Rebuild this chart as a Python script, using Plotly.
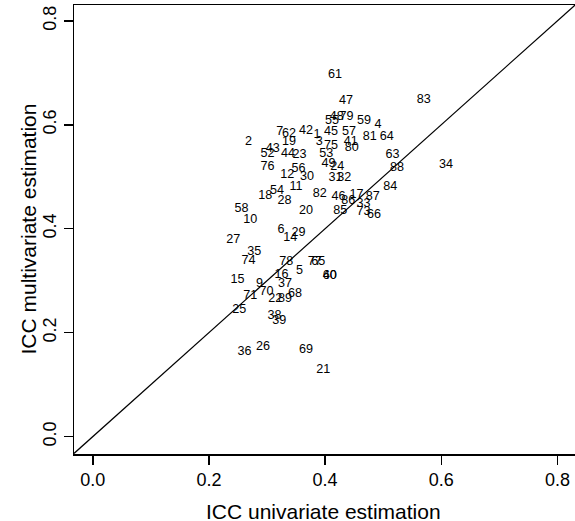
import plotly.graph_objects as go

labels = ["61","47","83","55","48","79","59","4","7","62","42","1","45","57","81","64",
          "2","19","3","75","41","80","43","52","44","23","53","63","88","34","76","49",
          "24","12","56","30","32","11","82","46","17","87","84","85","86","33","73","66",
          "54","18","28","20","58","10","27","6","29","14","35","74","78","5","40","60",
          "16","15","9","37","70","68","71","22","89","25","38","39","36","26","69","21",
          "65","77","31"]
x_uni = [0.417,0.436,0.570,0.412,0.420,0.437,0.467,0.491,0.322,0.338,0.367,0.386,0.410,0.441,0.477,0.506,
         0.268,0.338,0.390,0.410,0.444,0.446,0.310,0.301,0.336,0.356,0.402,0.516,0.524,0.608,0.301,0.406,
         0.421,0.335,0.354,0.369,0.433,0.350,0.391,0.423,0.454,0.482,0.512,0.426,0.440,0.466,0.466,0.484,
         0.317,0.297,0.330,0.367,0.256,0.271,0.242,0.324,0.354,0.340,0.278,0.268,0.333,0.356,0.408,0.408,
         0.325,0.249,0.287,0.331,0.299,0.348,0.271,0.314,0.331,0.252,0.313,0.321,0.261,0.293,0.367,0.397,
         0.388,0.382,0.418]
y_multi = [0.697,0.647,0.648,0.608,0.616,0.615,0.608,0.600,0.587,0.582,0.589,0.580,0.586,0.586,0.577,0.577,
           0.567,0.567,0.567,0.560,0.567,0.555,0.554,0.544,0.544,0.543,0.544,0.542,0.517,0.523,0.519,0.524,
           0.520,0.503,0.516,0.499,0.498,0.481,0.467,0.461,0.466,0.461,0.481,0.435,0.454,0.448,0.432,0.427,
           0.472,0.464,0.453,0.435,0.438,0.417,0.379,0.397,0.393,0.382,0.355,0.339,0.336,0.318,0.310,0.310,
           0.312,0.302,0.293,0.294,0.278,0.275,0.270,0.265,0.265,0.243,0.233,0.222,0.164,0.173,0.167,0.129,
           0.336,0.336,0.498]

x_ticks = [0.0, 0.2, 0.4, 0.6, 0.8]
y_ticks = [0.0, 0.2, 0.4, 0.6, 0.8]
x_range = [-0.0324, 0.8303]
y_range = [-0.0335, 0.8305]
x_title = "ICC univariate estimation"
y_title = "ICC multivariate estimation"

FONT = "Liberation Sans, Arial, sans-serif"

fig = go.Figure()
fig.add_trace(go.Scatter(
    x=x_uni, y=y_multi, text=labels, mode="text",
    textposition="middle center",
    textfont=dict(family=FONT, size=12.6, color="black"),
    hoverinfo="skip", showlegend=False))

d0 = max(x_range[0], y_range[0])
d1 = min(x_range[1], y_range[1])
fig.add_trace(go.Scatter(x=[d0, d1], y=[d0, d1], mode="lines",
                         line=dict(color="black", width=1.2),
                         hoverinfo="skip", showlegend=False))

axis_common = dict(showgrid=False, zeroline=False, showline=True, linecolor="black",
                   linewidth=1.5, mirror=True, ticks="outside", ticklen=9, tickwidth=1.5,
                   tickcolor="black", automargin=False,
                   tickfont=dict(family=FONT, size=18, color="black"))
fig.update_xaxes(range=x_range, tickvals=x_ticks, ticktext=[f"{v:.1f}" for v in x_ticks],
                 **axis_common)
fig.update_yaxes(range=y_range, tickvals=y_ticks, ticktext=[f"{v:.1f}" for v in y_ticks],
                 tickangle=-90, **axis_common)

fig.add_annotation(text=x_title, xref="paper", yref="paper", x=0.5, y=0,
                   xanchor="center", yanchor="middle", yshift=-57, xshift=-1,
                   showarrow=False, font=dict(family=FONT, size=21, color="black"))
fig.add_annotation(text=y_title, xref="paper", yref="paper", x=0, y=0.5,
                   xanchor="center", yanchor="middle", xshift=-46, textangle=-90,
                   showarrow=False, font=dict(family=FONT, size=21, color="black"))

fig.update_layout(width=575, height=521, margin=dict(l=74, r=0, t=5, b=67),
                  plot_bgcolor="white", paper_bgcolor="white", hovermode=False)
fig.write_html("out.html", config={"displayModeBar": False, "staticPlot": True},
               post_script="document.body.style.margin='0';document.body.style.overflow='hidden';")
